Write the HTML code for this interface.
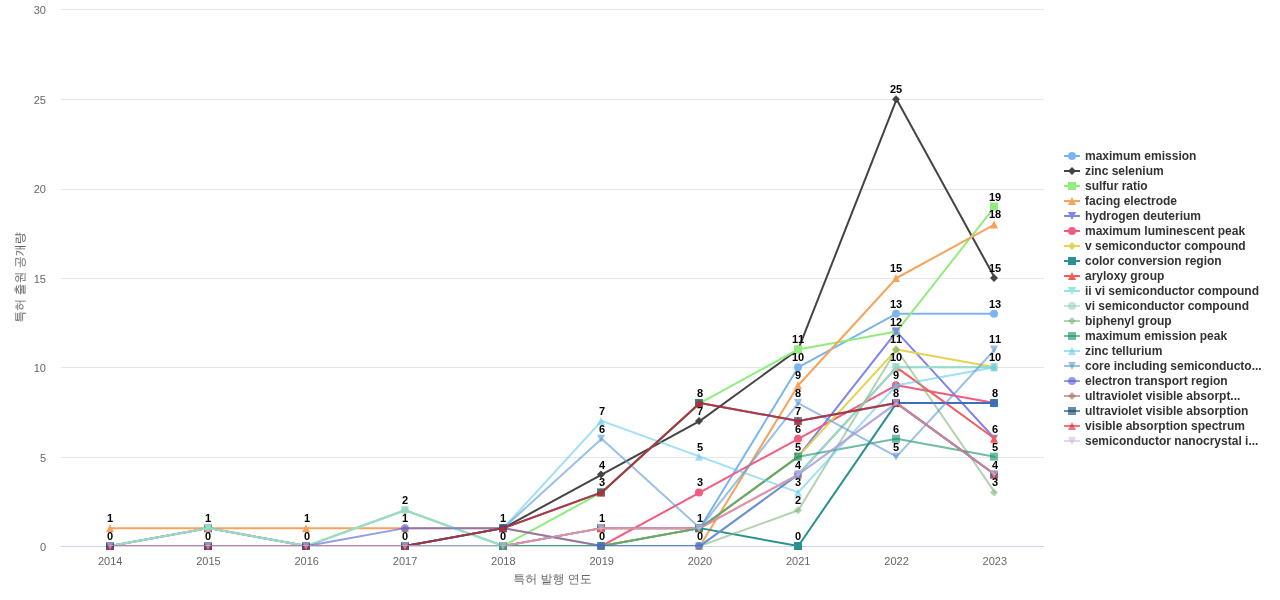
<!DOCTYPE html>
<html lang="ko"><head><meta charset="utf-8"><title>특허 발행 연도별 특허 출원 공개량</title>
<style>
html,body{margin:0;padding:0;background:#fff;}
body{width:1280px;height:600px;overflow:hidden;}
svg{display:block;font-family:"Liberation Sans", "WenQuanYi Zen Hei", "Noto Sans CJK KR", sans-serif;will-change:transform;}
.ax{font-size:11px;fill:#666666;}
.ti{font-size:12px;fill:#666666;}
.lg{font-size:12px;font-weight:bold;fill:#333333;}
.dl{font-size:11px;font-weight:bold;fill:#000;text-anchor:start;font-kerning:none;}
</style></head><body>
<svg width="1280" height="600" viewBox="0 0 1280 600">
<rect x="0" y="0" width="1280" height="600" fill="#ffffff"/>
<g stroke="#e6e6e6" stroke-width="1" fill="none">
<path d="M61 457.5H1044"/>
<path d="M61 367.5H1044"/>
<path d="M61 278.5H1044"/>
<path d="M61 189.5H1044"/>
<path d="M61 99.5H1044"/>
<path d="M61 9.5H1044"/>
</g>
<path d="M61 546.5H1044" stroke="#ccd6eb" stroke-width="1" fill="none"/>
<g class="ax" text-anchor="end">
<text x="46" y="551">0</text>
<text x="46" y="461.5">5</text>
<text x="46" y="372">10</text>
<text x="46" y="282.5">15</text>
<text x="46" y="193">20</text>
<text x="46" y="103.5">25</text>
<text x="46" y="14">30</text>
</g>
<g class="ax" text-anchor="middle">
<text x="110.15" y="565">2014</text>
<text x="208.45" y="565">2015</text>
<text x="306.75" y="565">2016</text>
<text x="405.05" y="565">2017</text>
<text x="503.35" y="565">2018</text>
<text x="601.65" y="565">2019</text>
<text x="699.95" y="565">2020</text>
<text x="798.25" y="565">2021</text>
<text x="896.55" y="565">2022</text>
<text x="994.85" y="565">2023</text>
</g>
<text class="ti" text-anchor="middle" x="552.5" y="583">특허 발행 연도</text>
<text class="ti" text-anchor="middle" transform="translate(24,277.5) rotate(-90)">특허 출원 공개량</text>
<defs><clipPath id="plotclip"><rect x="61" y="10" width="983" height="536"/></clipPath></defs>
<g>
<path d="M110.15 546L208.45 546L306.75 546L405.05 546L503.35 546L601.65 546L699.95 528.13L798.25 367.33L896.55 313.73L994.85 313.73" fill="none" stroke="#7cb5ec" stroke-width="2" stroke-linejoin="round" stroke-linecap="round" clip-path="url(#plotclip)"/>
<circle cx="110" cy="546" r="4" fill="#7cb5ec"/>
<circle cx="208" cy="546" r="4" fill="#7cb5ec"/>
<circle cx="306" cy="546" r="4" fill="#7cb5ec"/>
<circle cx="405" cy="546" r="4" fill="#7cb5ec"/>
<circle cx="503" cy="546" r="4" fill="#7cb5ec"/>
<circle cx="601" cy="546" r="4" fill="#7cb5ec"/>
<circle cx="699" cy="528.13" r="4" fill="#7cb5ec"/>
<circle cx="798" cy="367.33" r="4" fill="#7cb5ec"/>
<circle cx="896" cy="313.73" r="4" fill="#7cb5ec"/>
<circle cx="994" cy="313.73" r="4" fill="#7cb5ec"/>
</g>
<g>
<path d="M110.15 546L208.45 546L306.75 546L405.05 546L503.35 528.13L601.65 474.53L699.95 420.93L798.25 349.47L896.55 99.33L994.85 278" fill="none" stroke="#434348" stroke-width="2" stroke-linejoin="round" stroke-linecap="round" clip-path="url(#plotclip)"/>
<path d="M110 542L114 546L110 550L106 546z" fill="#434348"/>
<path d="M208 542L212 546L208 550L204 546z" fill="#434348"/>
<path d="M306 542L310 546L306 550L302 546z" fill="#434348"/>
<path d="M405 542L409 546L405 550L401 546z" fill="#434348"/>
<path d="M503 524.13L507 528.13L503 532.13L499 528.13z" fill="#434348"/>
<path d="M601 470.53L605 474.53L601 478.53L597 474.53z" fill="#434348"/>
<path d="M699 416.93L703 420.93L699 424.93L695 420.93z" fill="#434348"/>
<path d="M798 345.47L802 349.47L798 353.47L794 349.47z" fill="#434348"/>
<path d="M896 95.33L900 99.33L896 103.33L892 99.33z" fill="#434348"/>
<path d="M994 274L998 278L994 282L990 278z" fill="#434348"/>
</g>
<g>
<path d="M110.15 546L208.45 546L306.75 546L405.05 546L503.35 546L601.65 492.4L699.95 403.07L798.25 349.47L896.55 331.6L994.85 206.53" fill="none" stroke="#90ed7d" stroke-width="2" stroke-linejoin="round" stroke-linecap="round" clip-path="url(#plotclip)"/>
<path d="M106 542h8v8h-8z" fill="#90ed7d"/>
<path d="M204 542h8v8h-8z" fill="#90ed7d"/>
<path d="M302 542h8v8h-8z" fill="#90ed7d"/>
<path d="M401 542h8v8h-8z" fill="#90ed7d"/>
<path d="M499 542h8v8h-8z" fill="#90ed7d"/>
<path d="M597 488.4h8v8h-8z" fill="#90ed7d"/>
<path d="M695 399.07h8v8h-8z" fill="#90ed7d"/>
<path d="M794 345.47h8v8h-8z" fill="#90ed7d"/>
<path d="M892 327.6h8v8h-8z" fill="#90ed7d"/>
<path d="M990 202.53h8v8h-8z" fill="#90ed7d"/>
</g>
<g>
<path d="M110.15 528.13L208.45 528.13L306.75 528.13L405.05 528.13L503.35 528.13L601.65 546L699.95 546L798.25 385.2L896.55 278L994.85 224.4" fill="none" stroke="#f7a35c" stroke-width="2" stroke-linejoin="round" stroke-linecap="round" clip-path="url(#plotclip)"/>
<path d="M110 524.13L114 532.13L106 532.13z" fill="#f7a35c"/>
<path d="M208 524.13L212 532.13L204 532.13z" fill="#f7a35c"/>
<path d="M306 524.13L310 532.13L302 532.13z" fill="#f7a35c"/>
<path d="M405 524.13L409 532.13L401 532.13z" fill="#f7a35c"/>
<path d="M503 524.13L507 532.13L499 532.13z" fill="#f7a35c"/>
<path d="M601 542L605 550L597 550z" fill="#f7a35c"/>
<path d="M699 542L703 550L695 550z" fill="#f7a35c"/>
<path d="M798 381.2L802 389.2L794 389.2z" fill="#f7a35c"/>
<path d="M896 274L900 282L892 282z" fill="#f7a35c"/>
<path d="M994 220.4L998 228.4L990 228.4z" fill="#f7a35c"/>
</g>
<g>
<path d="M110.15 546L208.45 546L306.75 546L405.05 546L503.35 546L601.65 546L699.95 528.13L798.25 456.67L896.55 331.6L994.85 438.8" fill="none" stroke="#8085e9" stroke-width="2" stroke-linejoin="round" stroke-linecap="round" clip-path="url(#plotclip)"/>
<path d="M106 542L114 542L110 550z" fill="#8085e9"/>
<path d="M204 542L212 542L208 550z" fill="#8085e9"/>
<path d="M302 542L310 542L306 550z" fill="#8085e9"/>
<path d="M401 542L409 542L405 550z" fill="#8085e9"/>
<path d="M499 542L507 542L503 550z" fill="#8085e9"/>
<path d="M597 542L605 542L601 550z" fill="#8085e9"/>
<path d="M695 524.13L703 524.13L699 532.13z" fill="#8085e9"/>
<path d="M794 452.67L802 452.67L798 460.67z" fill="#8085e9"/>
<path d="M892 327.6L900 327.6L896 335.6z" fill="#8085e9"/>
<path d="M990 434.8L998 434.8L994 442.8z" fill="#8085e9"/>
</g>
<g>
<path d="M110.15 546L208.45 546L306.75 546L405.05 546L503.35 546L601.65 546L699.95 492.4L798.25 438.8L896.55 385.2L994.85 403.07" fill="none" stroke="#f15c80" stroke-width="2" stroke-linejoin="round" stroke-linecap="round" clip-path="url(#plotclip)"/>
<circle cx="110" cy="546" r="4" fill="#f15c80"/>
<circle cx="208" cy="546" r="4" fill="#f15c80"/>
<circle cx="306" cy="546" r="4" fill="#f15c80"/>
<circle cx="405" cy="546" r="4" fill="#f15c80"/>
<circle cx="503" cy="546" r="4" fill="#f15c80"/>
<circle cx="601" cy="546" r="4" fill="#f15c80"/>
<circle cx="699" cy="492.4" r="4" fill="#f15c80"/>
<circle cx="798" cy="438.8" r="4" fill="#f15c80"/>
<circle cx="896" cy="385.2" r="4" fill="#f15c80"/>
<circle cx="994" cy="403.07" r="4" fill="#f15c80"/>
</g>
<g>
<path d="M110.15 546L208.45 546L306.75 546L405.05 510.27L503.35 546L601.65 546L699.95 528.13L798.25 456.67L896.55 349.47L994.85 367.33" fill="none" stroke="#e4d354" stroke-width="2" stroke-linejoin="round" stroke-linecap="round" clip-path="url(#plotclip)"/>
<path d="M110 542L114 546L110 550L106 546z" fill="#e4d354"/>
<path d="M208 542L212 546L208 550L204 546z" fill="#e4d354"/>
<path d="M306 542L310 546L306 550L302 546z" fill="#e4d354"/>
<path d="M405 506.27L409 510.27L405 514.27L401 510.27z" fill="#e4d354"/>
<path d="M503 542L507 546L503 550L499 546z" fill="#e4d354"/>
<path d="M601 542L605 546L601 550L597 546z" fill="#e4d354"/>
<path d="M699 524.13L703 528.13L699 532.13L695 528.13z" fill="#e4d354"/>
<path d="M798 452.67L802 456.67L798 460.67L794 456.67z" fill="#e4d354"/>
<path d="M896 345.47L900 349.47L896 353.47L892 349.47z" fill="#e4d354"/>
<path d="M994 363.33L998 367.33L994 371.33L990 367.33z" fill="#e4d354"/>
</g>
<g>
<path d="M110.15 546L208.45 528.13L306.75 546L405.05 546L503.35 546L601.65 528.13L699.95 528.13L798.25 546L896.55 403.07L994.85 403.07" fill="none" stroke="#2b908f" stroke-width="2" stroke-linejoin="round" stroke-linecap="round" clip-path="url(#plotclip)"/>
<path d="M106 542h8v8h-8z" fill="#2b908f"/>
<path d="M204 524.13h8v8h-8z" fill="#2b908f"/>
<path d="M302 542h8v8h-8z" fill="#2b908f"/>
<path d="M401 542h8v8h-8z" fill="#2b908f"/>
<path d="M499 542h8v8h-8z" fill="#2b908f"/>
<path d="M597 524.13h8v8h-8z" fill="#2b908f"/>
<path d="M695 524.13h8v8h-8z" fill="#2b908f"/>
<path d="M794 542h8v8h-8z" fill="#2b908f"/>
<path d="M892 399.07h8v8h-8z" fill="#2b908f"/>
<path d="M990 399.07h8v8h-8z" fill="#2b908f"/>
</g>
<g>
<path d="M110.15 546L208.45 528.13L306.75 546L405.05 546L503.35 546L601.65 528.13L699.95 528.13L798.25 474.53L896.55 367.33L994.85 438.8" fill="none" stroke="#f45b5b" stroke-width="2" stroke-linejoin="round" stroke-linecap="round" clip-path="url(#plotclip)"/>
<path d="M110 542L114 550L106 550z" fill="#f45b5b"/>
<path d="M208 524.13L212 532.13L204 532.13z" fill="#f45b5b"/>
<path d="M306 542L310 550L302 550z" fill="#f45b5b"/>
<path d="M405 542L409 550L401 550z" fill="#f45b5b"/>
<path d="M503 542L507 550L499 550z" fill="#f45b5b"/>
<path d="M601 524.13L605 532.13L597 532.13z" fill="#f45b5b"/>
<path d="M699 524.13L703 532.13L695 532.13z" fill="#f45b5b"/>
<path d="M798 470.53L802 478.53L794 478.53z" fill="#f45b5b"/>
<path d="M896 363.33L900 371.33L892 371.33z" fill="#f45b5b"/>
<path d="M994 434.8L998 442.8L990 442.8z" fill="#f45b5b"/>
</g>
<g>
<path d="M110.15 546L208.45 528.13L306.75 546L405.05 510.27L503.35 546L601.65 546L699.95 546L798.25 474.53L896.55 367.33L994.85 367.33" fill="none" stroke="#91e8e1" stroke-width="2" stroke-linejoin="round" stroke-linecap="round" clip-path="url(#plotclip)"/>
<path d="M106 542L114 542L110 550z" fill="#91e8e1"/>
<path d="M204 524.13L212 524.13L208 532.13z" fill="#91e8e1"/>
<path d="M302 542L310 542L306 550z" fill="#91e8e1"/>
<path d="M401 506.27L409 506.27L405 514.27z" fill="#91e8e1"/>
<path d="M499 542L507 542L503 550z" fill="#91e8e1"/>
<path d="M597 542L605 542L601 550z" fill="#91e8e1"/>
<path d="M695 542L703 542L699 550z" fill="#91e8e1"/>
<path d="M794 470.53L802 470.53L798 478.53z" fill="#91e8e1"/>
<path d="M892 363.33L900 363.33L896 371.33z" fill="#91e8e1"/>
<path d="M990 363.33L998 363.33L994 371.33z" fill="#91e8e1"/>
</g>
<g>
<path d="M110.15 546L208.45 528.13L306.75 546L405.05 510.27L503.35 546L601.65 546L699.95 546L798.25 474.53L896.55 367.33L994.85 367.33" fill="none" stroke="rgba(153,212,189,0.6)" stroke-width="2" stroke-linejoin="round" stroke-linecap="round" clip-path="url(#plotclip)"/>
<circle cx="110" cy="546" r="4" fill="rgba(153,212,189,0.6)"/>
<circle cx="208" cy="528.13" r="4" fill="rgba(153,212,189,0.6)"/>
<circle cx="306" cy="546" r="4" fill="rgba(153,212,189,0.6)"/>
<circle cx="405" cy="510.27" r="4" fill="rgba(153,212,189,0.6)"/>
<circle cx="503" cy="546" r="4" fill="rgba(153,212,189,0.6)"/>
<circle cx="601" cy="546" r="4" fill="rgba(153,212,189,0.6)"/>
<circle cx="699" cy="546" r="4" fill="rgba(153,212,189,0.6)"/>
<circle cx="798" cy="474.53" r="4" fill="rgba(153,212,189,0.6)"/>
<circle cx="896" cy="367.33" r="4" fill="rgba(153,212,189,0.6)"/>
<circle cx="994" cy="367.33" r="4" fill="rgba(153,212,189,0.6)"/>
</g>
<g>
<path d="M110.15 546L208.45 546L306.75 546L405.05 546L503.35 546L601.65 546L699.95 546L798.25 510.27L896.55 349.47L994.85 492.4" fill="none" stroke="rgba(126,182,122,0.6)" stroke-width="2" stroke-linejoin="round" stroke-linecap="round" clip-path="url(#plotclip)"/>
<path d="M110 542L114 546L110 550L106 546z" fill="rgba(126,182,122,0.6)"/>
<path d="M208 542L212 546L208 550L204 546z" fill="rgba(126,182,122,0.6)"/>
<path d="M306 542L310 546L306 550L302 546z" fill="rgba(126,182,122,0.6)"/>
<path d="M405 542L409 546L405 550L401 546z" fill="rgba(126,182,122,0.6)"/>
<path d="M503 542L507 546L503 550L499 546z" fill="rgba(126,182,122,0.6)"/>
<path d="M601 542L605 546L601 550L597 546z" fill="rgba(126,182,122,0.6)"/>
<path d="M699 542L703 546L699 550L695 546z" fill="rgba(126,182,122,0.6)"/>
<path d="M798 506.27L802 510.27L798 514.27L794 510.27z" fill="rgba(126,182,122,0.6)"/>
<path d="M896 345.47L900 349.47L896 353.47L892 349.47z" fill="rgba(126,182,122,0.6)"/>
<path d="M994 488.4L998 492.4L994 496.4L990 492.4z" fill="rgba(126,182,122,0.6)"/>
</g>
<g>
<path d="M110.15 546L208.45 546L306.75 546L405.05 546L503.35 546L601.65 546L699.95 528.13L798.25 456.67L896.55 438.8L994.85 456.67" fill="none" stroke="rgba(15,145,105,0.6)" stroke-width="2" stroke-linejoin="round" stroke-linecap="round" clip-path="url(#plotclip)"/>
<path d="M106 542h8v8h-8z" fill="rgba(15,145,105,0.6)"/>
<path d="M204 542h8v8h-8z" fill="rgba(15,145,105,0.6)"/>
<path d="M302 542h8v8h-8z" fill="rgba(15,145,105,0.6)"/>
<path d="M401 542h8v8h-8z" fill="rgba(15,145,105,0.6)"/>
<path d="M499 542h8v8h-8z" fill="rgba(15,145,105,0.6)"/>
<path d="M597 542h8v8h-8z" fill="rgba(15,145,105,0.6)"/>
<path d="M695 524.13h8v8h-8z" fill="rgba(15,145,105,0.6)"/>
<path d="M794 452.67h8v8h-8z" fill="rgba(15,145,105,0.6)"/>
<path d="M892 434.8h8v8h-8z" fill="rgba(15,145,105,0.6)"/>
<path d="M990 452.67h8v8h-8z" fill="rgba(15,145,105,0.6)"/>
</g>
<g>
<path d="M110.15 546L208.45 546L306.75 546L405.05 546L503.35 528.13L601.65 420.93L699.95 456.67L798.25 492.4L896.55 385.2L994.85 367.33" fill="none" stroke="rgba(95,203,238,0.6)" stroke-width="2" stroke-linejoin="round" stroke-linecap="round" clip-path="url(#plotclip)"/>
<path d="M110 542L114 550L106 550z" fill="rgba(95,203,238,0.6)"/>
<path d="M208 542L212 550L204 550z" fill="rgba(95,203,238,0.6)"/>
<path d="M306 542L310 550L302 550z" fill="rgba(95,203,238,0.6)"/>
<path d="M405 542L409 550L401 550z" fill="rgba(95,203,238,0.6)"/>
<path d="M503 524.13L507 532.13L499 532.13z" fill="rgba(95,203,238,0.6)"/>
<path d="M601 416.93L605 424.93L597 424.93z" fill="rgba(95,203,238,0.6)"/>
<path d="M699 452.67L703 460.67L695 460.67z" fill="rgba(95,203,238,0.6)"/>
<path d="M798 488.4L802 496.4L794 496.4z" fill="rgba(95,203,238,0.6)"/>
<path d="M896 381.2L900 389.2L892 389.2z" fill="rgba(95,203,238,0.6)"/>
<path d="M994 363.33L998 371.33L990 371.33z" fill="rgba(95,203,238,0.6)"/>
</g>
<g>
<path d="M110.15 546L208.45 546L306.75 546L405.05 546L503.35 528.13L601.65 438.8L699.95 528.13L798.25 403.07L896.55 456.67L994.85 349.47" fill="none" stroke="rgba(88,150,213,0.6)" stroke-width="2" stroke-linejoin="round" stroke-linecap="round" clip-path="url(#plotclip)"/>
<path d="M106 542L114 542L110 550z" fill="rgba(88,150,213,0.6)"/>
<path d="M204 542L212 542L208 550z" fill="rgba(88,150,213,0.6)"/>
<path d="M302 542L310 542L306 550z" fill="rgba(88,150,213,0.6)"/>
<path d="M401 542L409 542L405 550z" fill="rgba(88,150,213,0.6)"/>
<path d="M499 524.13L507 524.13L503 532.13z" fill="rgba(88,150,213,0.6)"/>
<path d="M597 434.8L605 434.8L601 442.8z" fill="rgba(88,150,213,0.6)"/>
<path d="M695 524.13L703 524.13L699 532.13z" fill="rgba(88,150,213,0.6)"/>
<path d="M794 399.07L802 399.07L798 407.07z" fill="rgba(88,150,213,0.6)"/>
<path d="M892 452.67L900 452.67L896 460.67z" fill="rgba(88,150,213,0.6)"/>
<path d="M990 345.47L998 345.47L994 353.47z" fill="rgba(88,150,213,0.6)"/>
</g>
<g>
<path d="M110.15 546L208.45 546L306.75 546L405.05 528.13L503.35 528.13L601.65 546L699.95 546L798.25 474.53L896.55 403.07L994.85 403.07" fill="none" stroke="rgba(80,88,217,0.6)" stroke-width="2" stroke-linejoin="round" stroke-linecap="round" clip-path="url(#plotclip)"/>
<circle cx="110" cy="546" r="4" fill="rgba(80,88,217,0.6)"/>
<circle cx="208" cy="546" r="4" fill="rgba(80,88,217,0.6)"/>
<circle cx="306" cy="546" r="4" fill="rgba(80,88,217,0.6)"/>
<circle cx="405" cy="528.13" r="4" fill="rgba(80,88,217,0.6)"/>
<circle cx="503" cy="528.13" r="4" fill="rgba(80,88,217,0.6)"/>
<circle cx="601" cy="546" r="4" fill="rgba(80,88,217,0.6)"/>
<circle cx="699" cy="546" r="4" fill="rgba(80,88,217,0.6)"/>
<circle cx="798" cy="474.53" r="4" fill="rgba(80,88,217,0.6)"/>
<circle cx="896" cy="403.07" r="4" fill="rgba(80,88,217,0.6)"/>
<circle cx="994" cy="403.07" r="4" fill="rgba(80,88,217,0.6)"/>
</g>
<g>
<path d="M110.15 546L208.45 546L306.75 546L405.05 546L503.35 528.13L601.65 492.4L699.95 403.07L798.25 420.93L896.55 403.07L994.85 474.53" fill="none" stroke="rgba(172,109,78,0.6)" stroke-width="2" stroke-linejoin="round" stroke-linecap="round" clip-path="url(#plotclip)"/>
<path d="M110 542L114 546L110 550L106 546z" fill="rgba(172,109,78,0.6)"/>
<path d="M208 542L212 546L208 550L204 546z" fill="rgba(172,109,78,0.6)"/>
<path d="M306 542L310 546L306 550L302 546z" fill="rgba(172,109,78,0.6)"/>
<path d="M405 542L409 546L405 550L401 546z" fill="rgba(172,109,78,0.6)"/>
<path d="M503 524.13L507 528.13L503 532.13L499 528.13z" fill="rgba(172,109,78,0.6)"/>
<path d="M601 488.4L605 492.4L601 496.4L597 492.4z" fill="rgba(172,109,78,0.6)"/>
<path d="M699 399.07L703 403.07L699 407.07L695 403.07z" fill="rgba(172,109,78,0.6)"/>
<path d="M798 416.93L802 420.93L798 424.93L794 420.93z" fill="rgba(172,109,78,0.6)"/>
<path d="M896 399.07L900 403.07L896 407.07L892 403.07z" fill="rgba(172,109,78,0.6)"/>
<path d="M994 470.53L998 474.53L994 478.53L990 474.53z" fill="rgba(172,109,78,0.6)"/>
</g>
<g>
<path d="M110.15 546L208.45 546L306.75 546L405.05 546L503.35 528.13L601.65 492.4L699.95 403.07L798.25 420.93L896.55 403.07L994.85 474.53" fill="none" stroke="rgba(3,65,105,0.6)" stroke-width="2" stroke-linejoin="round" stroke-linecap="round" clip-path="url(#plotclip)"/>
<path d="M106 542h8v8h-8z" fill="rgba(3,65,105,0.6)"/>
<path d="M204 542h8v8h-8z" fill="rgba(3,65,105,0.6)"/>
<path d="M302 542h8v8h-8z" fill="rgba(3,65,105,0.6)"/>
<path d="M401 542h8v8h-8z" fill="rgba(3,65,105,0.6)"/>
<path d="M499 524.13h8v8h-8z" fill="rgba(3,65,105,0.6)"/>
<path d="M597 488.4h8v8h-8z" fill="rgba(3,65,105,0.6)"/>
<path d="M695 399.07h8v8h-8z" fill="rgba(3,65,105,0.6)"/>
<path d="M794 416.93h8v8h-8z" fill="rgba(3,65,105,0.6)"/>
<path d="M892 399.07h8v8h-8z" fill="rgba(3,65,105,0.6)"/>
<path d="M990 470.53h8v8h-8z" fill="rgba(3,65,105,0.6)"/>
</g>
<g>
<path d="M110.15 546L208.45 546L306.75 546L405.05 546L503.35 528.13L601.65 492.4L699.95 403.07L798.25 420.93L896.55 403.07L994.85 474.53" fill="none" stroke="rgba(233,27,38,0.6)" stroke-width="2" stroke-linejoin="round" stroke-linecap="round" clip-path="url(#plotclip)"/>
<path d="M110 542L114 550L106 550z" fill="rgba(233,27,38,0.6)"/>
<path d="M208 542L212 550L204 550z" fill="rgba(233,27,38,0.6)"/>
<path d="M306 542L310 550L302 550z" fill="rgba(233,27,38,0.6)"/>
<path d="M405 542L409 550L401 550z" fill="rgba(233,27,38,0.6)"/>
<path d="M503 524.13L507 532.13L499 532.13z" fill="rgba(233,27,38,0.6)"/>
<path d="M601 488.4L605 496.4L597 496.4z" fill="rgba(233,27,38,0.6)"/>
<path d="M699 399.07L703 407.07L695 407.07z" fill="rgba(233,27,38,0.6)"/>
<path d="M798 416.93L802 424.93L794 424.93z" fill="rgba(233,27,38,0.6)"/>
<path d="M896 399.07L900 407.07L892 407.07z" fill="rgba(233,27,38,0.6)"/>
<path d="M994 470.53L998 478.53L990 478.53z" fill="rgba(233,27,38,0.6)"/>
</g>
<g>
<path d="M110.15 546L208.45 546L306.75 546L405.05 546L503.35 546L601.65 528.13L699.95 528.13L798.25 474.53L896.55 403.07L994.85 474.53" fill="none" stroke="rgba(210,183,223,0.6)" stroke-width="2" stroke-linejoin="round" stroke-linecap="round" clip-path="url(#plotclip)"/>
<path d="M106 542L114 542L110 550z" fill="rgba(210,183,223,0.6)"/>
<path d="M204 542L212 542L208 550z" fill="rgba(210,183,223,0.6)"/>
<path d="M302 542L310 542L306 550z" fill="rgba(210,183,223,0.6)"/>
<path d="M401 542L409 542L405 550z" fill="rgba(210,183,223,0.6)"/>
<path d="M499 542L507 542L503 550z" fill="rgba(210,183,223,0.6)"/>
<path d="M597 524.13L605 524.13L601 532.13z" fill="rgba(210,183,223,0.6)"/>
<path d="M695 524.13L703 524.13L699 532.13z" fill="rgba(210,183,223,0.6)"/>
<path d="M794 470.53L802 470.53L798 478.53z" fill="rgba(210,183,223,0.6)"/>
<path d="M892 399.07L900 399.07L896 407.07z" fill="rgba(210,183,223,0.6)"/>
<path d="M990 470.53L998 470.53L994 478.53z" fill="rgba(210,183,223,0.6)"/>
</g>
<g class="dl">
<text x="107" y="540">0</text>
<text x="107" y="522">1</text>
<text x="205" y="540">0</text>
<text x="205" y="522">1</text>
<text x="304" y="540">0</text>
<text x="304" y="522">1</text>
<text x="402" y="540">0</text>
<text x="402" y="522">1</text>
<text x="402" y="504">2</text>
<text x="500" y="540">0</text>
<text x="500" y="522">1</text>
<text x="599" y="540">0</text>
<text x="599" y="522">1</text>
<text x="599" y="486">3</text>
<text x="599" y="469">4</text>
<text x="599" y="433">6</text>
<text x="599" y="415">7</text>
<text x="697" y="540">0</text>
<text x="697" y="522">1</text>
<text x="697" y="486">3</text>
<text x="697" y="451">5</text>
<text x="697" y="415">7</text>
<text x="697" y="397">8</text>
<text x="795" y="540">0</text>
<text x="795" y="504">2</text>
<text x="795" y="486">3</text>
<text x="795" y="469">4</text>
<text x="795" y="451">5</text>
<text x="795" y="433">6</text>
<text x="795" y="415">7</text>
<text x="795" y="397">8</text>
<text x="795" y="379">9</text>
<text x="792" y="361">10</text>
<text x="792" y="343">11</text>
<text x="893" y="451">5</text>
<text x="893" y="433">6</text>
<text x="893" y="397">8</text>
<text x="893" y="379">9</text>
<text x="890" y="361">10</text>
<text x="890" y="343">11</text>
<text x="890" y="326">12</text>
<text x="890" y="308">13</text>
<text x="890" y="272">15</text>
<text x="890" y="93">25</text>
<text x="992" y="486">3</text>
<text x="992" y="469">4</text>
<text x="992" y="451">5</text>
<text x="992" y="433">6</text>
<text x="992" y="397">8</text>
<text x="989" y="361">10</text>
<text x="989" y="343">11</text>
<text x="989" y="308">13</text>
<text x="989" y="272">15</text>
<text x="989" y="218">18</text>
<text x="989" y="201">19</text>
</g>
<g>
<path d="M1064 156H1080" stroke="#7cb5ec" stroke-width="2" fill="none"/>
<circle cx="1072" cy="156" r="4" fill="#7cb5ec"/>
<text class="lg" x="1085" y="160">maximum emission</text>
<path d="M1064 171H1080" stroke="#434348" stroke-width="2" fill="none"/>
<path d="M1072 167L1076 171L1072 175L1068 171z" fill="#434348"/>
<text class="lg" x="1085" y="175">zinc selenium</text>
<path d="M1064 186H1080" stroke="#90ed7d" stroke-width="2" fill="none"/>
<path d="M1068 182h8v8h-8z" fill="#90ed7d"/>
<text class="lg" x="1085" y="190">sulfur ratio</text>
<path d="M1064 201H1080" stroke="#f7a35c" stroke-width="2" fill="none"/>
<path d="M1072 197L1076 205L1068 205z" fill="#f7a35c"/>
<text class="lg" x="1085" y="205">facing electrode</text>
<path d="M1064 216H1080" stroke="#8085e9" stroke-width="2" fill="none"/>
<path d="M1068 212L1076 212L1072 220z" fill="#8085e9"/>
<text class="lg" x="1085" y="220">hydrogen deuterium</text>
<path d="M1064 231H1080" stroke="#f15c80" stroke-width="2" fill="none"/>
<circle cx="1072" cy="231" r="4" fill="#f15c80"/>
<text class="lg" x="1085" y="235">maximum luminescent peak</text>
<path d="M1064 246H1080" stroke="#e4d354" stroke-width="2" fill="none"/>
<path d="M1072 242L1076 246L1072 250L1068 246z" fill="#e4d354"/>
<text class="lg" x="1085" y="250">v semiconductor compound</text>
<path d="M1064 261H1080" stroke="#2b908f" stroke-width="2" fill="none"/>
<path d="M1068 257h8v8h-8z" fill="#2b908f"/>
<text class="lg" x="1085" y="265">color conversion region</text>
<path d="M1064 276H1080" stroke="#f45b5b" stroke-width="2" fill="none"/>
<path d="M1072 272L1076 280L1068 280z" fill="#f45b5b"/>
<text class="lg" x="1085" y="280">aryloxy group</text>
<path d="M1064 291H1080" stroke="#91e8e1" stroke-width="2" fill="none"/>
<path d="M1068 287L1076 287L1072 295z" fill="#91e8e1"/>
<text class="lg" x="1085" y="295">ii vi semiconductor compound</text>
<path d="M1064 306H1080" stroke="rgba(153,212,189,0.6)" stroke-width="2" fill="none"/>
<circle cx="1072" cy="306" r="4" fill="rgba(153,212,189,0.6)"/>
<text class="lg" x="1085" y="310">vi semiconductor compound</text>
<path d="M1064 321H1080" stroke="rgba(126,182,122,0.6)" stroke-width="2" fill="none"/>
<path d="M1072 317L1076 321L1072 325L1068 321z" fill="rgba(126,182,122,0.6)"/>
<text class="lg" x="1085" y="325">biphenyl group</text>
<path d="M1064 336H1080" stroke="rgba(15,145,105,0.6)" stroke-width="2" fill="none"/>
<path d="M1068 332h8v8h-8z" fill="rgba(15,145,105,0.6)"/>
<text class="lg" x="1085" y="340">maximum emission peak</text>
<path d="M1064 351H1080" stroke="rgba(95,203,238,0.6)" stroke-width="2" fill="none"/>
<path d="M1072 347L1076 355L1068 355z" fill="rgba(95,203,238,0.6)"/>
<text class="lg" x="1085" y="355">zinc tellurium</text>
<path d="M1064 366H1080" stroke="rgba(88,150,213,0.6)" stroke-width="2" fill="none"/>
<path d="M1068 362L1076 362L1072 370z" fill="rgba(88,150,213,0.6)"/>
<text class="lg" x="1085" y="370">core including semiconducto...</text>
<path d="M1064 381H1080" stroke="rgba(80,88,217,0.6)" stroke-width="2" fill="none"/>
<circle cx="1072" cy="381" r="4" fill="rgba(80,88,217,0.6)"/>
<text class="lg" x="1085" y="385">electron transport region</text>
<path d="M1064 396H1080" stroke="rgba(172,109,78,0.6)" stroke-width="2" fill="none"/>
<path d="M1072 392L1076 396L1072 400L1068 396z" fill="rgba(172,109,78,0.6)"/>
<text class="lg" x="1085" y="400">ultraviolet visible absorpt...</text>
<path d="M1064 411H1080" stroke="rgba(3,65,105,0.6)" stroke-width="2" fill="none"/>
<path d="M1068 407h8v8h-8z" fill="rgba(3,65,105,0.6)"/>
<text class="lg" x="1085" y="415">ultraviolet visible absorption</text>
<path d="M1064 426H1080" stroke="rgba(233,27,38,0.6)" stroke-width="2" fill="none"/>
<path d="M1072 422L1076 430L1068 430z" fill="rgba(233,27,38,0.6)"/>
<text class="lg" x="1085" y="430">visible absorption spectrum</text>
<path d="M1064 441H1080" stroke="rgba(210,183,223,0.6)" stroke-width="2" fill="none"/>
<path d="M1068 437L1076 437L1072 445z" fill="rgba(210,183,223,0.6)"/>
<text class="lg" x="1085" y="445">semiconductor nanocrystal i...</text>
</g>
</svg></body></html>
